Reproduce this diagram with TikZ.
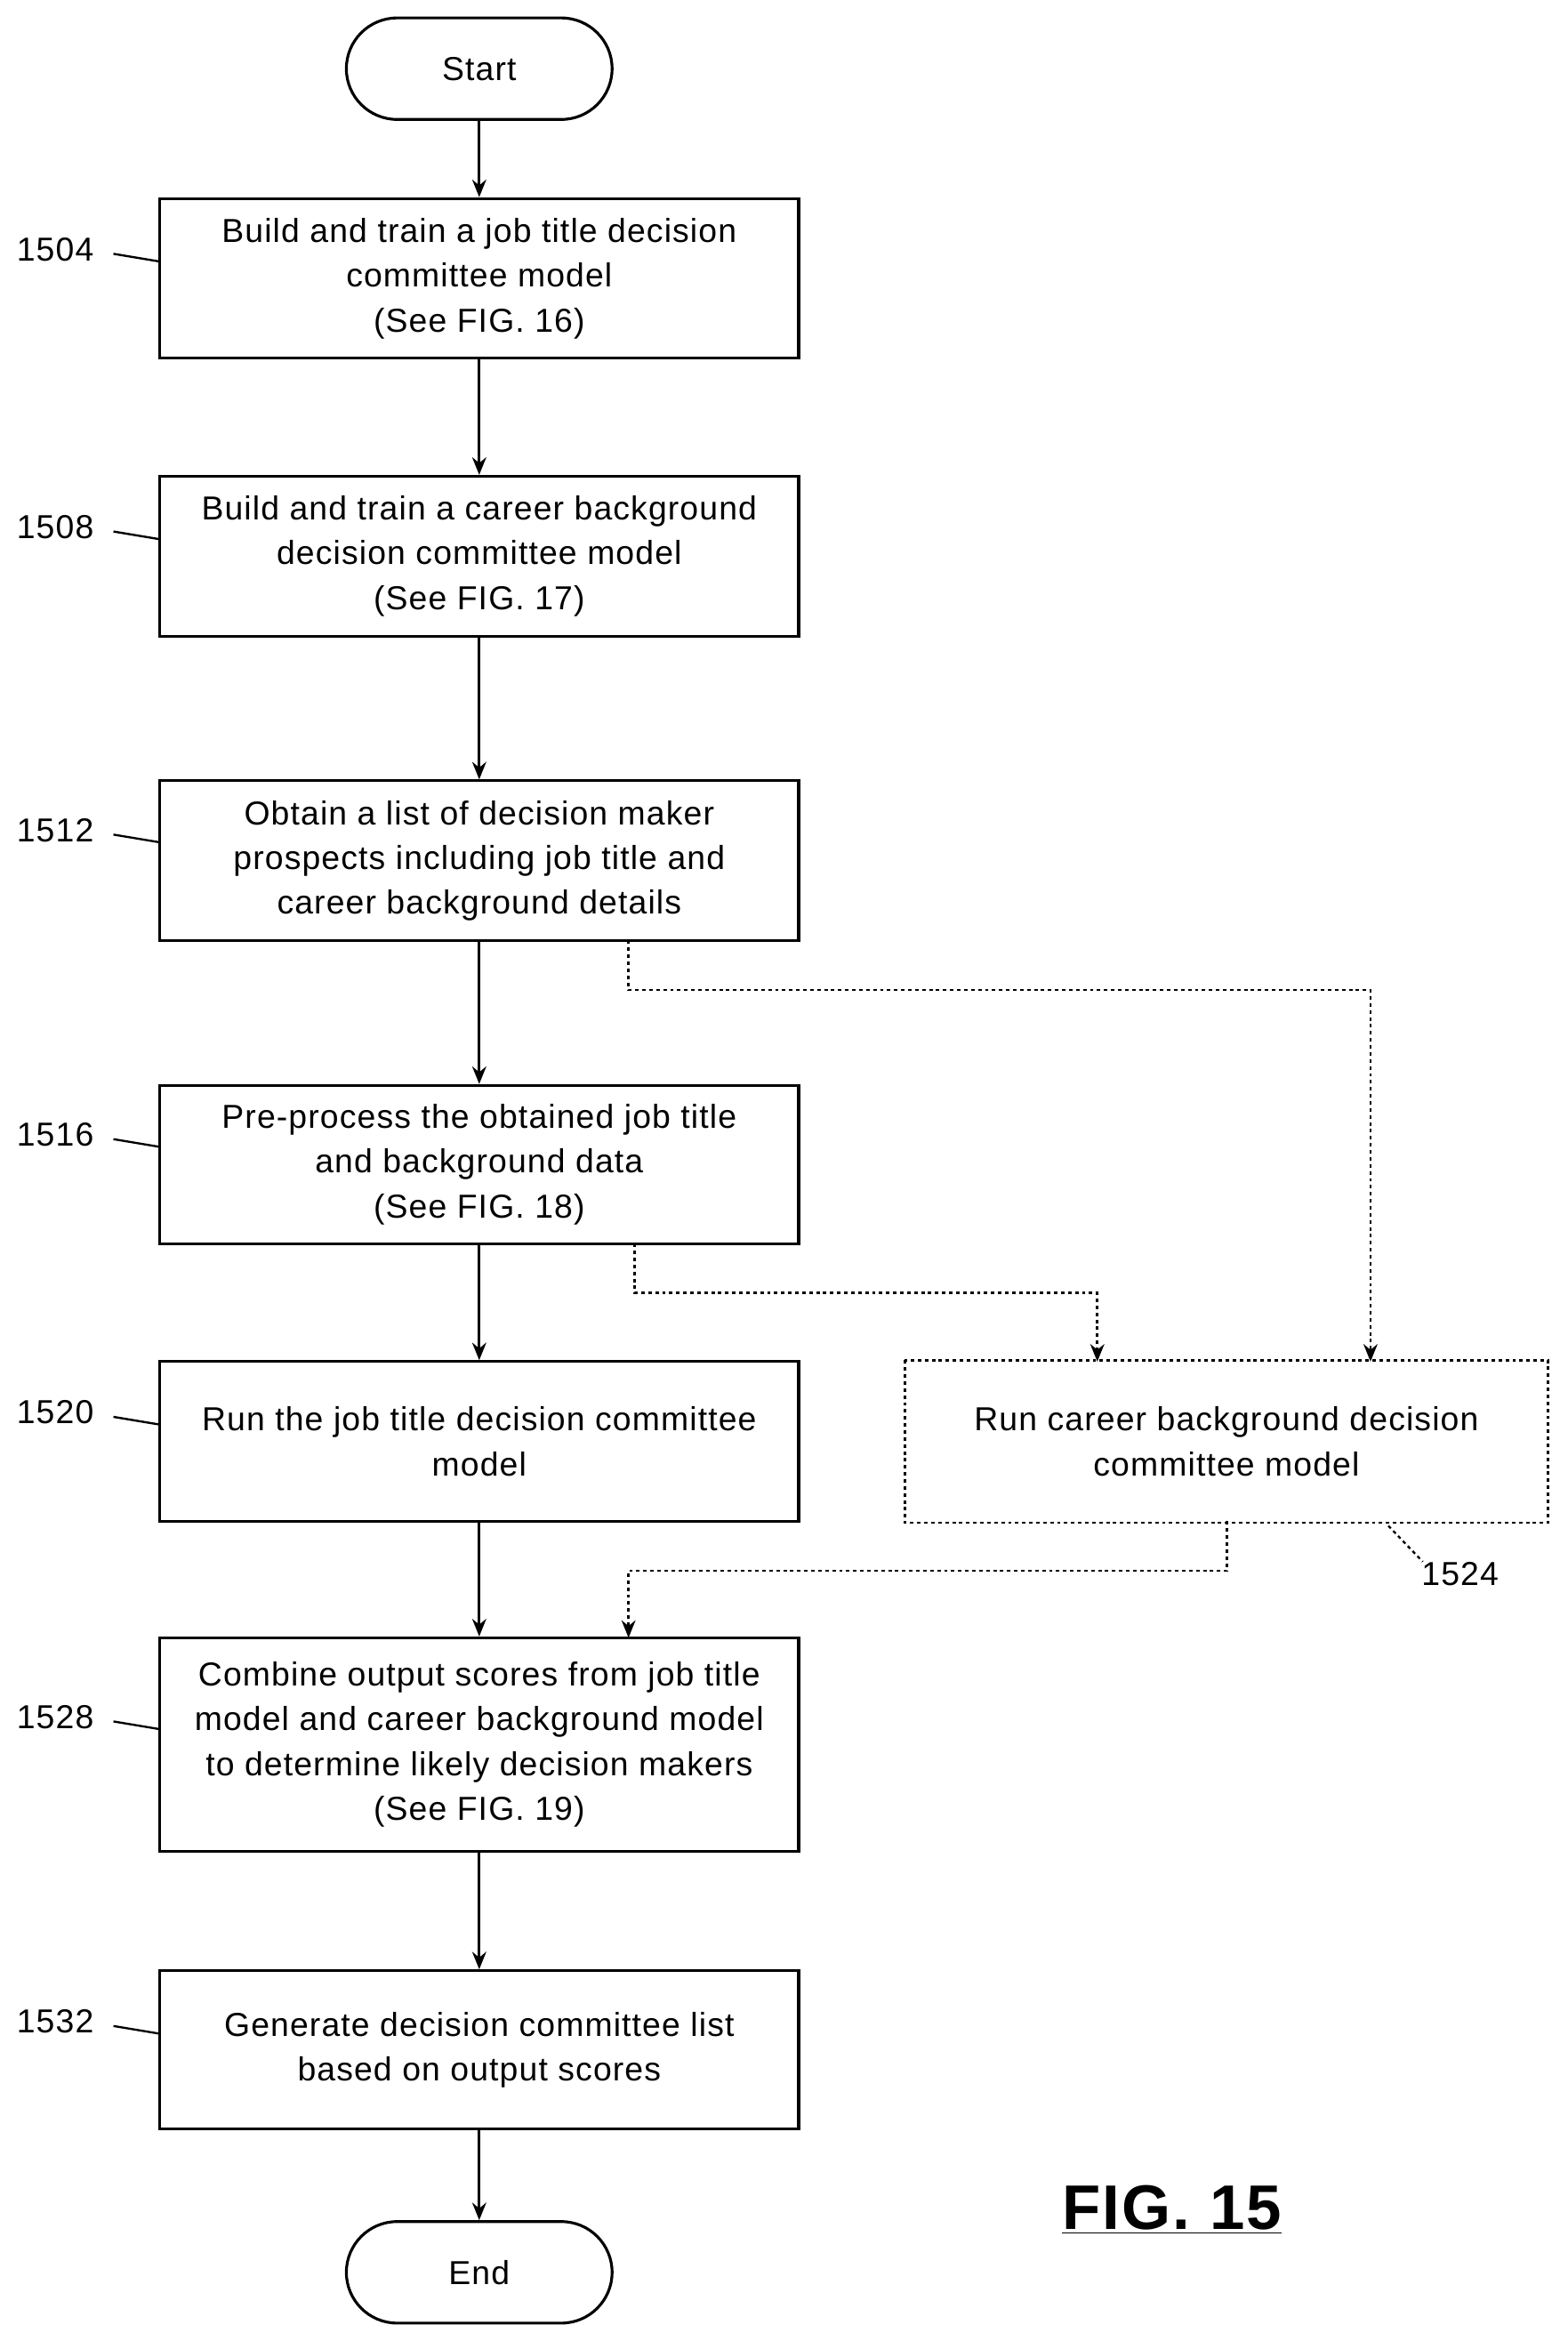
\documentclass[tikz,border=0pt]{standalone}
\usepackage{fontspec}
\setmainfont{Liberation Sans}[LetterSpace=3]
\usetikzlibrary{arrows.meta}
\begin{document}
\begin{tikzpicture}[x=0.03cm,y=-0.03cm,
 box/.style={draw,line width=1.6pt,minimum width=428*0.03cm,align=center,font=\fontsize{19}{25.6}\selectfont,inner sep=0pt},
 pill/.style={draw,line width=1.6pt,rounded corners=34*0.03cm,minimum width=178*0.03cm,minimum height=68*0.03cm,font=\fontsize{19}{22}\selectfont},
 arr/.style={line width=1.6pt,-{Stealth[length=10pt,width=8pt]}},
 dar/.style={line width=1.4pt,dash pattern=on 2pt off 2pt,-{Stealth[length=10pt,width=8pt]}},
 lab/.style={font=\fontsize{19}{22}\selectfont},
 lead/.style={line width=1.2pt}]
\useasboundingbox (0,0) rectangle (1050,1568);
\node[pill] (s) at (321,46) {Start};
\node[box,minimum height=107*0.03cm] (b1) at (321,186.5) {Build and train a job title decision\\committee model\\(See FIG. 16)};
\node[box,minimum height=107*0.03cm] (b2) at (321,372.5) {Build and train a career background\\decision committee model\\(See FIG. 17)};
\node[box,minimum height=107*0.03cm] (b3) at (321,576.5) {Obtain a list of decision maker\\prospects including job title and\\career background details};
\node[box,minimum height=106*0.03cm] (b4) at (321,780) {Pre-process the obtained job title\\and background data\\(See FIG. 18)};
\node[box,minimum height=107*0.03cm] (b5) at (321,965.5) {Run the job title decision committee\\model};
\node[box,minimum width=429*0.03cm,minimum height=107*0.03cm,draw=none] (b6) at (821.5,965.5) {Run career background decision\\committee model};
\draw[line width=1.4pt,dash pattern=on 2pt off 2pt] (b6.north west) rectangle (b6.south east);
\node[box,minimum height=143*0.03cm] (b7) at (321,1168.5) {Combine output scores from job title\\model and career background model\\to determine likely decision makers\\(See FIG. 19)};
\node[box,minimum height=106*0.03cm] (b8) at (321,1373) {Generate decision committee list\\based on output scores};
\node[pill] (e) at (321,1522) {End};
\draw[arr] (s)--(b1); \draw[arr] (b1)--(b2); \draw[arr] (b2)--(b3); \draw[arr] (b3)--(b4);
\draw[arr] (b4)--(b5); \draw[arr] (b5)--(b7); \draw[arr] (b7)--(b8); \draw[arr] (b8)--(e);
\coordinate (p1) at (421,630); \coordinate (p2) at (425,833); \coordinate (p3) at (822,1019);
\draw[dar] (p1) |- (918,663) -- (918,912);
\draw[dar] (p2) |- (735,866) -- (735,912);
\draw[dar] (p3) |- (421,1052) -- (421,1097);
\foreach \n/\y in {1504/167,1508/353,1512/556,1516/760,1520/946,1528/1150,1532/1354}{
 \node[lab] (l\n) at (37,\y) {\n};
 \draw[lead] (76,\y+3) -- (106,\y+8);}
\node[lab] (l1524) at (978,1054) {1524};
\draw[lead,dash pattern=on 2pt off 2pt] (930,1022) -- (953,1046);
\node[font=\fontsize{36}{40}\selectfont\bfseries] (fig) at (785,1480) {\underline{FIG. 15}};
\end{tikzpicture}
\end{document}
